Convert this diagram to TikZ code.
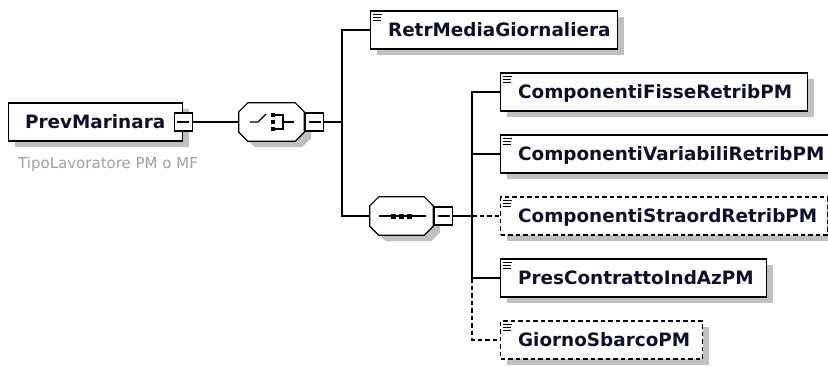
\documentclass[tikz,border=0pt]{standalone}
\usepackage{fontspec}
\setmainfont{DejaVu Sans}
\usetikzlibrary{calc,shadows}
\definecolor{txt}{RGB}{15,15,45}
\definecolor{shd}{RGB}{192,192,192}
\definecolor{lbl}{RGB}{160,160,160}
\tikzset{
  elem/.style={draw, line width=1.2pt, fill=white, rectangle, inner sep=0pt,
    minimum height=38pt, anchor=west, text height=14pt, text depth=1.5pt,
    font=\fontsize{18.4}{20}\selectfont\bfseries, text=txt,
    general shadow={fill=shd, shadow xshift=6pt, shadow yshift=-6pt}},
  optelem/.style={elem, dash pattern=on 4.5pt off 3pt},
  minusbox/.style={draw, line width=1.2pt, fill=white, rectangle, inner sep=0pt,
    minimum size=18pt,
    path picture={\draw[line width=1.1pt] ([xshift=3pt]path picture bounding box.west) -- ([xshift=-3pt]path picture bounding box.east);}},
  octnode/.style={inner sep=0pt, minimum height=38pt},
  conn/.style={line width=1.2pt, black},
  optconn/.style={conn, dash pattern=on 4.5pt off 3pt},
  iconline/.style={line width=1.1pt, black},
}
\newcommand\elboxtext[3]{\makebox[#1pt][l]{\hspace{#2pt}#3}}
\newcommand\elicon[1]{%
  \draw[iconline] ($(#1.north west)+(3,4)$) -- ++(8.5,0)
                  ($(#1.north west)+(3,7)$) -- ++(8,0)
                  ($(#1.north west)+(3,10)$) -- ++(8,0);}
\newcommand\octpath[3]{%
  ($(#1.north west)+(9+#2,#3)$) -- ($(#1.north east)+(-9+#2,#3)$) --
  ($(#1.north east)+(#2,9+#3)$) -- ($(#1.south east)+(#2,-9+#3)$) --
  ($(#1.south east)+(-9+#2,#3)$) -- ($(#1.south west)+(9+#2,#3)$) --
  ($(#1.south west)+(#2,-9+#3)$) -- ($(#1.north west)+(#2,9+#3)$) -- cycle}
\begin{document}
\begin{tikzpicture}[x=1pt,y=-1pt]
\useasboundingbox[fill=white] (0,0) rectangle (828,365);

% root element
\node[elem] (pm) at (8,122) {\elboxtext{174}{16.5}{PrevMarinara}};
\node[anchor=base west, inner sep=0pt, text=lbl, font=\fontsize{15}{16}\selectfont] (lab) at (18,168.3) {TipoLavoratore PM o MF};
\node[minusbox] (pmm) at (pm.east) {};

% choice compositor
\node[octnode, minimum width=65pt] (ch) at (271.5,122) {};
\fill[shd] \octpath{ch}{7}{6};
\draw[conn, fill=white] \octpath{ch}{0}{0};
\node[minusbox, anchor=west] (chm) at ([xshift=1pt]ch.east) {};
\draw[iconline, line width=1.2pt] (250,122) -- (258,122) -- (266,114);
\fill[black] (270.5,112.5) rectangle ++(4.5,4.5);
\fill[black] (270.5,119.5) rectangle ++(4.5,4.5);
\fill[black] (270.5,126.5) rectangle ++(4.5,4.5);
\draw[iconline, line width=1.2pt] (275,115) -- (283,115) -- (283,129) -- (275,129);
\draw[iconline, line width=1.2pt] (283,122) -- (294,122);

% sequence compositor
\node[octnode, minimum width=63pt] (sq) at (401.5,216) {};
\fill[shd] \octpath{sq}{7}{6};
\draw[conn, fill=white] \octpath{sq}{0}{0};
\node[minusbox, anchor=west] (sqm) at ([xshift=1pt]sq.east) {};
\draw[iconline, line width=1.2pt] (379,216) -- (426,216);
\fill[black] (391,213.5) rectangle ++(5,5);
\fill[black] (399,213.5) rectangle ++(5,5);
\fill[black] (407,213.5) rectangle ++(5,5);

% child elements
\node[elem] (retr) at (370,30) {\elboxtext{247}{17.5}{RetrMediaGiornaliera}};
\node[elem] (fis) at (500,92) {\elboxtext{307}{17.5}{ComponentiFisseRetribPM}};
\node[elem] (var) at (500,154) {\elboxtext{332}{17.5}{ComponentiVariabiliRetribPM}};
\node[optelem] (str) at (500,216) {\elboxtext{326.5}{17.5}{ComponentiStraordRetribPM}};
\node[elem] (pres) at (500,278) {\elboxtext{266}{17.5}{PresContrattoIndAzPM}};
\node[optelem] (gio) at (500,340) {\elboxtext{202}{17.5}{GiornoSbarcoPM}};
\foreach \n in {retr,fis,var,str,pres,gio} {\elicon{\n}}

% connectors
\coordinate (j1) at (342,122);
\coordinate (j2) at (472,216);
\coordinate (j3) at (j2 |- pres.west);
\draw[conn] (pmm.east) -- (ch.west);
\draw[conn] (chm.east) -- (j1);
\draw[conn] (j1) |- (retr.west);
\draw[conn] (j1) |- (sq.west);
\draw[conn] (sqm.east) -- (j2);
\draw[conn] (j2) |- (fis.west);
\draw[conn] (j2) |- (var.west);
\draw[optconn] (j2) -- (str.west);
\draw[conn] (j2) |- (pres.west);
\draw[optconn] (j3) |- (gio.west);
\end{tikzpicture}
\end{document}
